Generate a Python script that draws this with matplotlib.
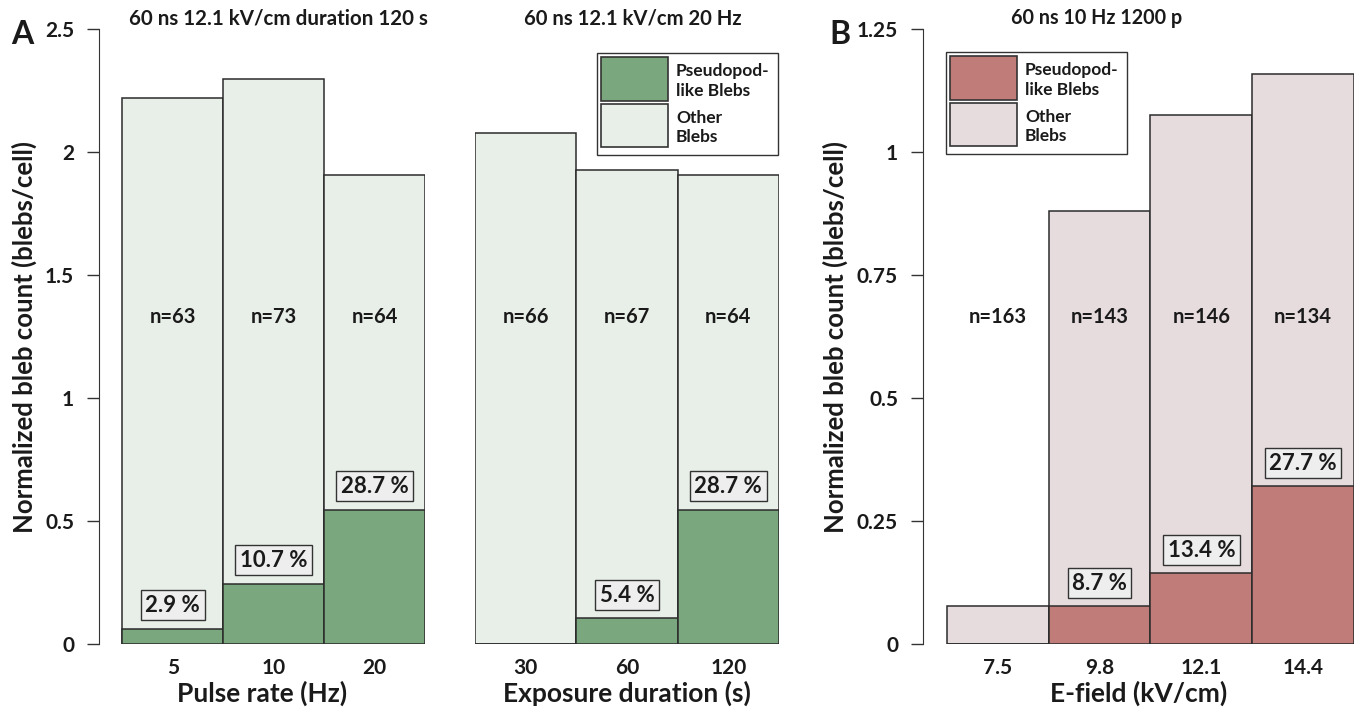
import matplotlib
matplotlib.use('Agg')
import matplotlib.pyplot as plt
from matplotlib.patches import Rectangle

plt.rcParams['font.family'] = ['Lato', 'DejaVu Sans']
plt.rcParams['font.weight'] = 'bold'

# Panel A, left: pulse rate
rate_labels = ['5', '10', '20']
rate_total = [2.22, 2.30, 1.91]
rate_pseudo = [0.062, 0.245, 0.547]
rate_pct = ['2.9 %', '10.7 %', '28.7 %']
rate_n = ['n=63', 'n=73', 'n=64']

# Panel A, right: exposure duration
dur_labels = ['30', '60', '120']
dur_total = [2.08, 1.93, 1.91]
dur_pseudo = [0.0, 0.104, 0.547]
dur_pct = [None, '5.4 %', '28.7 %']
dur_n = ['n=66', 'n=67', 'n=64']

# Panel B: E-field
field_labels = ['7.5', '9.8', '12.1', '14.4']
field_total = [0.078, 0.881, 1.077, 1.160]
field_pseudo = [0.0, 0.077, 0.144, 0.321]
field_pct = [None, '8.7 %', '13.4 %', '27.7 %']
field_n = ['n=163', 'n=143', 'n=146', 'n=134']

legend_labels = ['Pseudopod-\nlike Blebs', 'Other\nBlebs']

green_dark, green_light = '#7aa77e', '#e8efe8'
red_dark, red_light = '#bf7c79', '#e6dbdd'
edge = '#2b2b2b'
txt = '#1a1a1a'

W, H = 1360, 712
fig = plt.figure(figsize=(W / 100, H / 100), dpi=100)
ax1 = fig.add_axes([0.0728, 0.0955, 0.2397, 0.8631])
ax2 = fig.add_axes([0.3493, 0.0955, 0.2235, 0.8631])
ax3 = fig.add_axes([0.6787, 0.0955, 0.3169, 0.8631])


def draw(ax, labels, total, pseudo, pct, nlab, dark, light, n_y, pct_off):
    x = list(range(len(labels)))
    ax.bar(x, total, width=1.0, color=light, edgecolor=edge, linewidth=1.1)
    ax.bar(x, pseudo, width=1.0, color=dark, edgecolor=edge, linewidth=1.1)
    for xi, p, t, lab in zip(x, pseudo, pct, nlab):
        ax.text(xi, n_y, lab, ha='center', va='center', fontsize=14.5, fontweight='bold', color=txt)
        if t:
            ax.text(xi, p + pct_off, t, ha='center', va='center', fontsize=16, fontweight='bold',
                    color=txt,
                    bbox=dict(boxstyle='square,pad=0.2', facecolor='#eeeeee', edgecolor='#333333', linewidth=1.0))
    ax.set_xticks(x)
    ax.set_xticklabels(labels, fontsize=15, fontweight='bold', color=txt)
    ax.tick_params(axis='x', length=0, pad=10)
    ax.spines['top'].set_visible(False)
    ax.spines['right'].set_visible(False)
    ax.spines['bottom'].set_visible(False)
    ax.spines['left'].set_color('#333333')
    ax.tick_params(axis='y', direction='out', length=9, width=1.0, color='#333333', labelsize=15, pad=9)


def legend_box(x0, y0, colors):
    # key drawn in figure pixels (top-left corner x0, y0)
    def fx(px):
        return px / W

    def fy(py):
        return 1 - py / H

    fig.add_artist(Rectangle((fx(x0), fy(y0 + 102)), 181 / W, 102 / H, transform=fig.transFigure,
                             facecolor='white', edgecolor='#333333', linewidth=1.0))
    tops = [y0 + 4, y0 + 51]
    hts = [44, 43]
    for top, h, c, lab in zip(tops, hts, colors, legend_labels):
        fig.add_artist(Rectangle((fx(x0 + 4), fy(top + h)), 67 / W, h / H, transform=fig.transFigure,
                                 facecolor=c, edgecolor='#333333', linewidth=1.2))
        fig.text(fx(x0 + 79), fy(top + h / 2 + 2), lab, ha='left', va='center', fontsize=12.5,
                 fontweight='bold', color=txt, linespacing=1.25)


draw(ax1, rate_labels, rate_total, rate_pseudo, rate_pct, rate_n, green_dark, green_light, 1.33, 0.095)
ax1.set_xlim(-0.73, 2.5)
ax1.set_ylim(0, 2.5)
ax1.set_yticks([0, 0.5, 1, 1.5, 2, 2.5])
ax1.set_yticklabels(['0', '0.5', '1', '1.5', '2', '2.5'], fontweight='bold', color=txt)
ax1.set_ylabel('Normalized bleb count (blebs/cell)', fontsize=18.5, fontweight='bold', labelpad=6, color=txt)
ax1.set_xlabel('Pulse rate (Hz)', fontsize=19, fontweight='bold', labelpad=2, color=txt)
ax1.text(1.05, 1.018, '60 ns 12.1 kV/cm duration 120 s', transform=ax1.get_xaxis_transform(),
         ha='center', va='center', fontsize=14.8, fontweight='bold', color=txt)

draw(ax2, dur_labels, dur_total, dur_pseudo, dur_pct, dur_n, green_dark, green_light, 1.33, 0.095)
ax2.set_xlim(-0.5, 2.5)
ax2.set_ylim(0, 2.5)
ax2.spines['left'].set_visible(False)
ax2.set_yticks([])
ax2.set_xlabel('Exposure duration (s)', fontsize=19, fontweight='bold', labelpad=2, color=txt)
ax2.text(1.06, 1.018, '60 ns 12.1 kV/cm 20 Hz', transform=ax2.get_xaxis_transform(),
         ha='center', va='center', fontsize=14.6, fontweight='bold', color=txt)
legend_box(597, 53, [green_dark, green_light])

draw(ax3, field_labels, field_total, field_pseudo, field_pct, field_n, red_dark, red_light, 0.665, 0.047)
ax3.set_xlim(-0.735, 3.5)
ax3.set_ylim(0, 1.25)
ax3.set_yticks([0, 0.25, 0.5, 0.75, 1, 1.25])
ax3.set_yticklabels(['0', '0.25', '0.5', '0.75', '1', '1.25'], fontweight='bold', color=txt)
ax3.set_ylabel('Normalized bleb count (blebs/cell)', fontsize=18.5, fontweight='bold', labelpad=6, color=txt)
ax3.set_xlabel('E-field (kV/cm)', fontsize=19, fontweight='bold', labelpad=2, color=txt)
fig.text(1097 / W, 1 - 18 / H, '60 ns 10 Hz 1200 p', ha='center', va='center',
         fontsize=14.2, fontweight='bold', color=txt)
legend_box(946, 52, [red_dark, red_light])

fig.text(22 / W, 1 - 34 / H, 'A', ha='center', va='center', fontsize=23, fontweight='bold', color=txt)
fig.text(840 / W, 1 - 34 / H, 'B', ha='center', va='center', fontsize=23, fontweight='bold', color=txt)

fig.savefig('out.png', dpi=100)
